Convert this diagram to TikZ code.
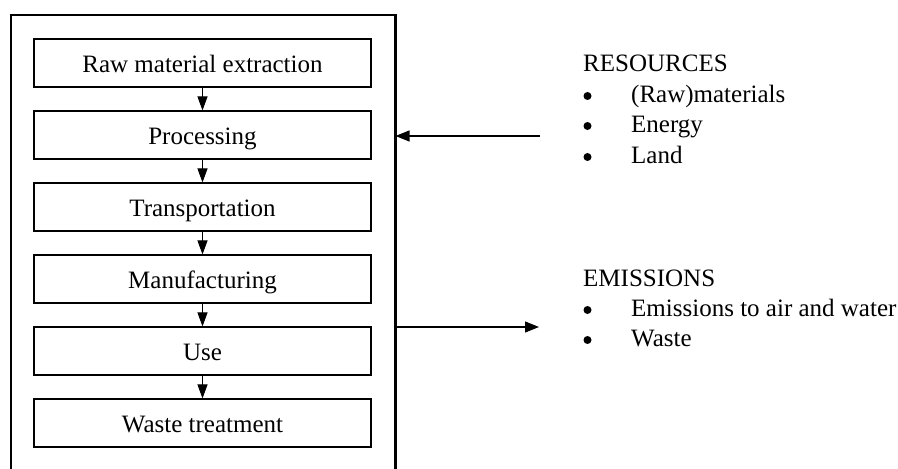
\documentclass[tikz,border=0pt]{standalone}
\usepackage{fontspec}
\setmainfont{Liberation Serif}
\usetikzlibrary{arrows.meta}
\begin{document}
\begin{tikzpicture}[x=1pt,y=1pt,
  stagebox/.style={draw,line width=1.1pt,minimum width=337pt,inner xsep=0pt,inner ysep=0pt,
    text height=34pt,text depth=14pt,font=\fontsize{25}{30}\selectfont},
  flow/.style={line width=1pt,-{Triangle[length=14pt,width=10pt]}},
  side/.style={line width=1.2pt,-{Triangle[length=14pt,width=11pt]}},
  lbl/.style={anchor=base west,inner sep=0pt,font=\fontsize{25}{30}\selectfont},
  bul/.style={circle,fill,inner sep=0pt,minimum size=8pt}]
\useasboundingbox (0,0) rectangle (898,469);
\clip (0,0) rectangle (898,469);
% outer frame (bottom edge outside the picture)
\draw[line width=2.3pt] (11.2,-10) -- (11.2,454) -- (395.5,454) -- (395.5,-10);
\coordinate (fr1) at (395.5,333);
\coordinate (fr2) at (395.5,142);
% stages
\node[stagebox] (s1) at (202.5,406) {Raw material extraction};
\node[stagebox] (s2) at (202.5,334) {Processing};
\node[stagebox] (s3) at (202.5,262) {Transportation};
\node[stagebox] (s4) at (202.5,190) {Manufacturing};
\node[stagebox] (s5) at (202.5,118) {Use};
\node[stagebox] (s6) at (202.5,46) {Waste treatment};
\draw[flow] (s1.south) -- (s2.north);
\draw[flow] (s2.south) -- (s3.north);
\draw[flow] (s3.south) -- (s4.north);
\draw[flow] (s4.south) -- (s5.north);
\draw[flow] (s5.south) -- (s6.north);
% resources
\node[lbl] (res) at (583,397) {RESOURCES};
\node[bul] (b1) at (587.5,373) {};
\node[lbl] (r1) at (631,366) {(Raw)materials};
\node[bul] (b2) at (587.5,343) {};
\node[lbl] (r2) at (631,336) {Energy};
\node[bul] (b3) at (587.5,312) {};
\node[lbl] (r3) at (631,305) {Land};
\coordinate (rsrc) at (540,333);
\draw[side] (rsrc) -- (fr1);
% emissions
\node[lbl] (emi) at (583,182) {EMISSIONS};
\node[bul] (b4) at (587.5,159) {};
\node[lbl] (e1) at (631,152) {Emissions to air and water};
\node[bul] (b5) at (587.5,129) {};
\node[lbl] (e2) at (631,122) {Waste};
\coordinate (edst) at (539,142);
\draw[side] (fr2) -- (edst);
\end{tikzpicture}
\end{document}
